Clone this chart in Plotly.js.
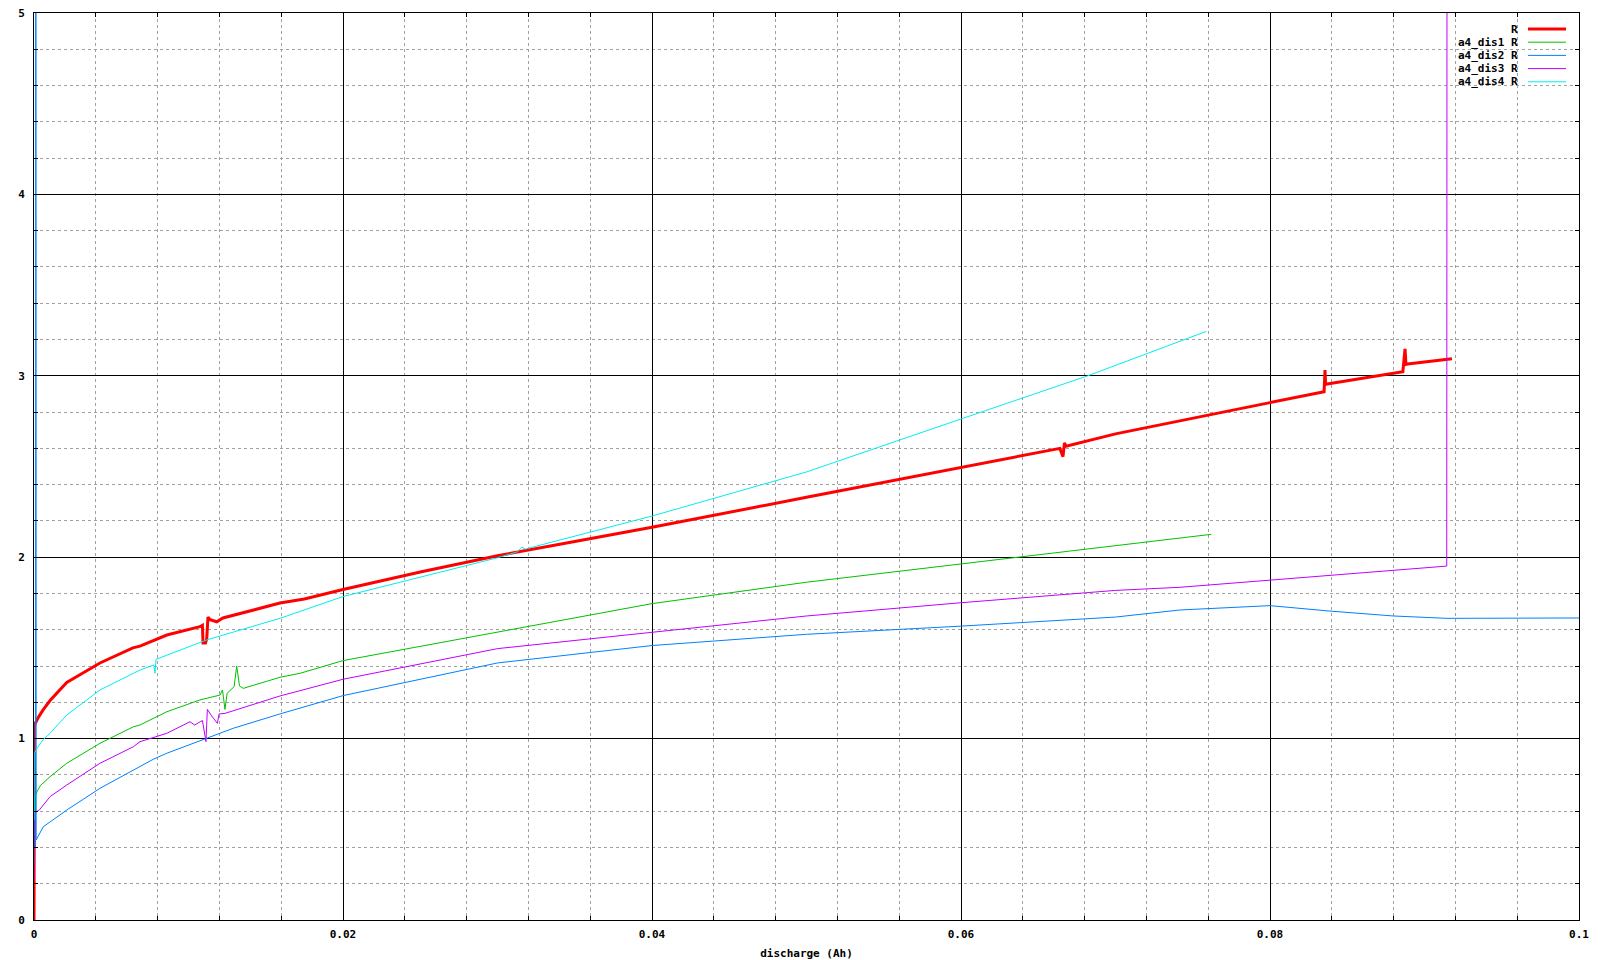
<!DOCTYPE html>
<html>
<head>
<meta charset="utf-8">
<script src="https://cdn.plot.ly/plotly-3.0.1.min.js"></script>
<style>html,body{margin:0;padding:0;background:#fff;}#chart{width:1600px;height:960px;}</style>
</head>
<body>
<div id="chart"></div>
<script>
// ---- data ----
const seriesNames = ["R", "a4_dis1 R", "a4_dis2 R", "a4_dis3 R", "a4_dis4 R"];
const seriesColors = ["#ff0000", "#00c000", "#0080ff", "#c000ff", "#00eeee"];

const rX = [0, 0, 0.00003, 0.0003, 0.0006, 0.00104, 0.00212, 0.00427, 0.0064, 0.00686, 0.0086, 0.01074, 0.0109, 0.01094, 0.0111, 0.01118, 0.01126, 0.0114, 0.01155, 0.01183, 0.01223, 0.01592, 0.0175, 0.02, 0.025, 0.03, 0.035, 0.04, 0.05, 0.06, 0.0664, 0.0666, 0.0667, 0.0668, 0.07, 0.08, 0.0835, 0.08356, 0.0836, 0.0837, 0.0886, 0.08874, 0.0888, 0.0889, 0.09178];
const rY = [0, 0.55, 1.075, 1.12, 1.16, 1.21, 1.31, 1.417, 1.50, 1.51, 1.571, 1.617, 1.625, 1.527, 1.527, 1.55, 1.67, 1.655, 1.65, 1.644, 1.665, 1.747, 1.77, 1.822, 1.918, 2.008, 2.087, 2.165, 2.33, 2.497, 2.60, 2.554, 2.63, 2.612, 2.68, 2.852, 2.912, 3.032, 2.953, 2.955, 3.023, 3.148, 3.063, 3.065, 3.094];

const g1X = [0, 0.00003, 0.0004, 0.00104, 0.00212, 0.00427, 0.00643, 0.00686, 0.00859, 0.01074, 0.01204, 0.0122, 0.01236, 0.0125, 0.01295, 0.01312, 0.0133, 0.01355, 0.01592, 0.01722, 0.02, 0.03, 0.04, 0.05, 0.06, 0.07, 0.0762];
const g1Y = [0.32, 0.68, 0.74, 0.79, 0.864, 0.974, 1.065, 1.075, 1.148, 1.213, 1.24, 1.268, 1.161, 1.25, 1.286, 1.40, 1.29, 1.277, 1.338, 1.36, 1.43, 1.586, 1.744, 1.862, 1.963, 2.06, 2.126];

const g2X = [0, 0.0001, 0.00012, 0.00014, 0.0006, 0.00104, 0.00212, 0.00427, 0.00643, 0.00772, 0.00859, 0.01118, 0.0129, 0.01592, 0.01722, 0.02, 0.03, 0.04, 0.05, 0.06, 0.07, 0.07417, 0.08, 0.08388, 0.08798, 0.09144, 0.1];
const g2Y = [0.4, 0.4, 6.0, 0.441, 0.514, 0.542, 0.606, 0.726, 0.827, 0.886, 0.919, 1.002, 1.057, 1.136, 1.167, 1.237, 1.417, 1.513, 1.575, 1.62, 1.67, 1.709, 1.733, 1.703, 1.676, 1.663, 1.665];

const g3X = [0, 0.00002, 0.00034, 0.00104, 0.00212, 0.00427, 0.00643, 0.00686, 0.00859, 0.0101, 0.0104, 0.0109, 0.01113, 0.01122, 0.0115, 0.01187, 0.01198, 0.01236, 0.01592, 0.01722, 0.02, 0.03, 0.04, 0.05, 0.06, 0.07, 0.07417, 0.08, 0.09144, 0.09146];
const g3Y = [0.22, 0.59, 0.606, 0.68, 0.744, 0.864, 0.955, 0.983, 1.029, 1.093, 1.075, 1.10, 0.983, 1.161, 1.125, 1.084, 1.136, 1.139, 1.235, 1.264, 1.327, 1.496, 1.586, 1.676, 1.749, 1.817, 1.834, 1.874, 1.951, 6.0];

const g4X = [0, 0.00002, 0.0003, 0.0006, 0.00104, 0.00212, 0.00427, 0.00643, 0.00686, 0.00775, 0.00783, 0.0079, 0.01118, 0.01592, 0.01722, 0.02, 0.03, 0.0313, 0.03157, 0.0318, 0.04, 0.05, 0.06, 0.0682, 0.07588];
const g4Y = [0.55, 0.919, 0.96, 0.995, 1.029, 1.13, 1.268, 1.363, 1.378, 1.406, 1.36, 1.437, 1.544, 1.663, 1.70, 1.783, 1.997, 2.03, 2.055, 2.045, 2.227, 2.47, 2.762, 3.0, 3.245];

const xTitle = "discharge (Ah)";

// ---- chart ----
const allX = [rX, g1X, g2X, g3X, g4X];
const allY = [rY, g1Y, g2Y, g3Y, g4Y];
const widths = [3, 1, 1, 1, 1];

const traces = seriesNames.map((n, i) => ({
  type: "scatter", mode: "lines", name: n,
  x: allX[i], y: allY[i],
  line: {color: seriesColors[i], width: widths[i]},
  showlegend: false
}));

const tickFont = {family: "DejaVu Sans Mono", size: 11, color: "#000", weight: "bold"};

const plotL = 34, plotR = 1579, plotT = 13, plotB = 920;
const plotW = plotR - plotL, plotH = plotB - plotT;

const annotations = [], shapes = [];
seriesNames.forEach((n, i) => {
  const ypx = 29 + i * 13.2;
  const yp = (plotB - ypx) / plotH;
  annotations.push({
    xref: "paper", yref: "paper", x: (1520 - plotL) / plotW, y: yp,
    xanchor: "right", yanchor: "middle", text: n, showarrow: false,
    font: tickFont
  });
  shapes.push({
    type: "line", xref: "paper", yref: "paper",
    x0: (1528 - plotL) / plotW, x1: (1566 - plotL) / plotW, y0: yp, y1: yp,
    line: {color: seriesColors[i], width: widths[i]}
  });
});

const axisCommon = {
  showline: true, linecolor: "#000", linewidth: 1, mirror: "allticks",
  showgrid: true, gridcolor: "#000", gridwidth: 1,
  zeroline: false, ticks: "inside", ticklen: 7, tickcolor: "#000",
  tickfont: tickFont
};

const layout = {
  width: 1600, height: 960,
  margin: {l: plotL, r: 1600 - plotR, t: plotT, b: 960 - plotB},
  paper_bgcolor: "#fff", plot_bgcolor: "#fff",
  showlegend: false,
  xaxis: Object.assign({}, axisCommon, {
    range: [0, 0.1], dtick: 0.02, tick0: 0, ticklabelstandoff: 4,
    minor: {dtick: 0.004, showgrid: true, gridcolor: "#a0a0a0", griddash: "3px,3px", gridwidth: 1, ticks: "inside", ticklen: 4, tickcolor: "#000"},
    title: {text: xTitle, font: tickFont, standoff: 10}
  }),
  yaxis: Object.assign({}, axisCommon, {
    range: [0, 5], dtick: 1, tick0: 0, ticklabelstandoff: 6,
    minor: {dtick: 0.2, showgrid: true, gridcolor: "#a0a0a0", griddash: "3px,3px", gridwidth: 1, ticks: "inside", ticklen: 4, tickcolor: "#000"}
  }),
  annotations: annotations,
  shapes: shapes
};

Plotly.newPlot("chart", traces, layout, {displayModeBar: false, staticPlot: true});
</script>
</body>
</html>
